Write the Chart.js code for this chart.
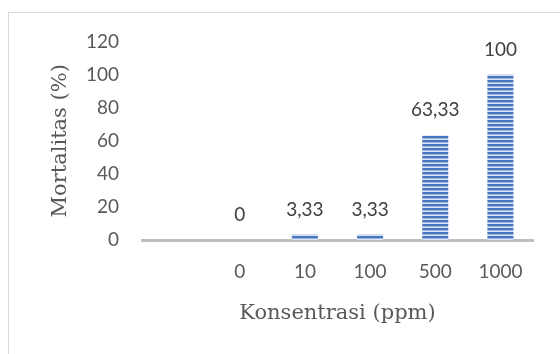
<!DOCTYPE html>
<html>
<head>
<meta charset="utf-8">
<script src="https://cdn.jsdelivr.net/npm/chart.js@4.4.1/dist/chart.umd.min.js"></script>
<style>
  body { margin: 0; background: #fff; overflow: hidden; }
  #frame { position: absolute; left: 8px; top: 12px; width: 600px; height: 400px; border: 1px solid #d9d9d9; }
  #chart { position: absolute; left: 0; top: 0; }
</style>
</head>
<body>
<div id="frame"></div>
<canvas id="chart" width="560" height="354"></canvas>
<script>
// concentrations (first slot is empty in the original chart)
const categories = ['', '0', '10', '100', '500', '1000'];
const mortality = [null, 0, 3.33, 3.33, 63.33, 100];
const yTicks = [0, 20, 40, 60, 80, 100, 120];

// horizontal stripe fill like the original bars
function stripes() {
    const c = document.createElement('canvas');
    c.width = 4; c.height = 4;
    const g = c.getContext('2d');
    g.fillStyle = '#4a76c2'; g.fillRect(0, 0, 4, 2);
    g.fillStyle = '#9ab4de'; g.fillRect(0, 2, 4, 1);
    g.fillStyle = '#dbe5f5'; g.fillRect(0, 3, 4, 1);
    return g.createPattern(c, 'repeat');
}

const valueLabels = {
    id: 'valueLabels',
    afterDatasetsDraw(chart) {
        const ctx = chart.ctx;
        const meta = chart.getDatasetMeta(0);
        ctx.save();
        ctx.font = '19px Lato';
        ctx.fillStyle = '#404040';
        ctx.textAlign = 'center';
        ctx.textBaseline = 'middle';
        meta.data.forEach((bar, i) => {
            const v = mortality[i];
            if (v === null) return;
            ctx.fillText(String(v).replace('.', ','), bar.x, bar.y - 25);
        });
        ctx.restore();
    }
};

new Chart(document.getElementById('chart').getContext('2d'), {
    type: 'bar',
    data: {
        labels: categories,
        datasets: [{
            data: mortality,
            backgroundColor: stripes(),
            barPercentage: 0.4,
            categoryPercentage: 1
        }]
    },
    options: {
        responsive: false,
        animation: false,
        layout: { padding: { left: 48, top: 41.5, right: 27, bottom: 0 } },
        plugins: { legend: { display: false }, tooltip: { enabled: false } },
        scales: {
            x: {
                grid: { display: false, drawTicks: false },
                border: { display: true, color: '#bfbfbf', width: 3 },
                ticks: { color: '#595959', font: { family: 'Lato', size: 19 }, padding: 20 },
                title: {
                    display: true,
                    text: 'Konsentrasi (ppm)',
                    color: '#595959',
                    font: { family: 'DejaVu Serif', size: 21 },
                    padding: { top: 0, bottom: 28 }
                },
                afterFit(scale) { scale.height = 114; }
            },
            y: {
                min: 0,
                max: 120,
                grid: { display: false, drawTicks: false },
                border: { display: false },
                afterBuildTicks(scale) { scale.ticks = yTicks.map(v => ({ value: v })); },
                ticks: { color: '#595959', font: { family: 'Lato', size: 19 }, padding: 23 },
                title: {
                    display: true,
                    text: 'Mortalitas (%)',
                    color: '#595959',
                    font: { family: 'DejaVu Serif', size: 21 },
                    padding: { top: 0, bottom: 0 }
                },
                afterFit(scale) { scale.width = 94; }
            }
        }
    },
    plugins: [valueLabels]
});
</script>
</body>
</html>
